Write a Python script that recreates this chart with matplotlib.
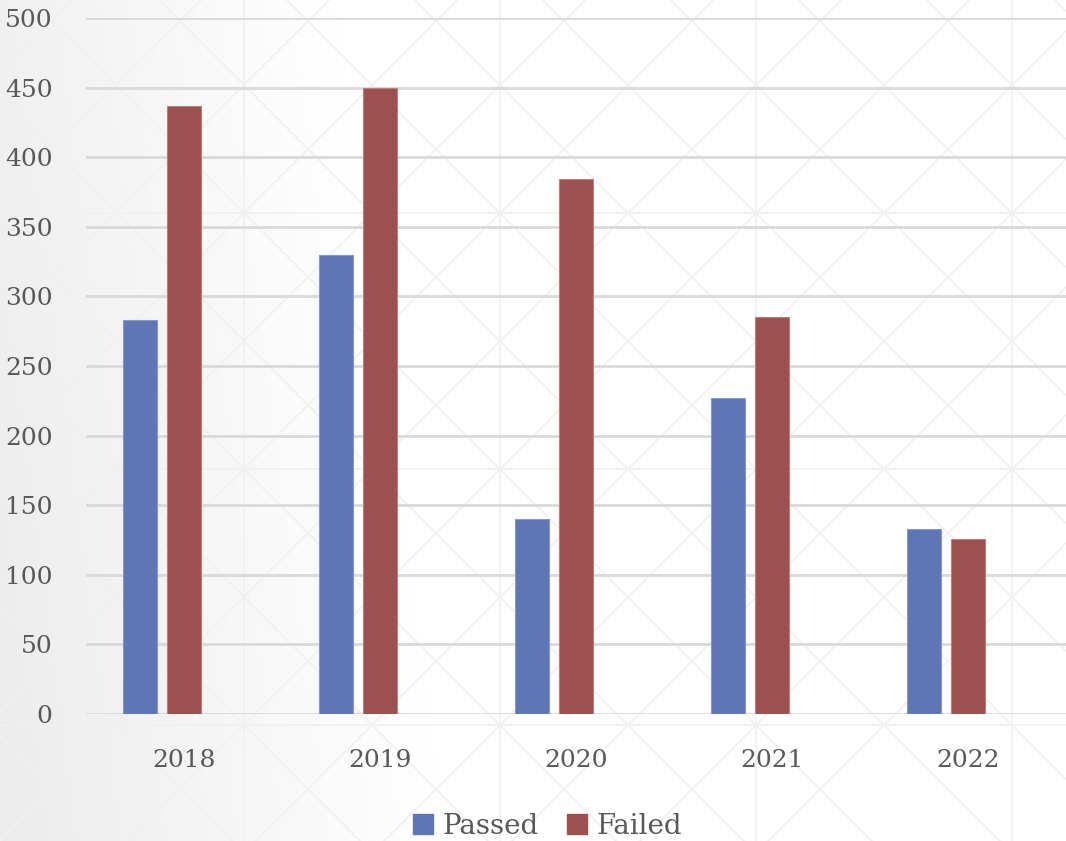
import numpy as np
import matplotlib
matplotlib.use("Agg")
import matplotlib.pyplot as plt
from matplotlib.lines import Line2D

years = ["2018", "2019", "2020", "2021", "2022"]
passed = [283, 330, 140, 227, 133]
failed = [437, 450, 384, 285, 126]
series_names = ["Passed", "Failed"]
yticks = [0, 50, 100, 150, 200, 250, 300, 350, 400, 450, 500]

W, H = 1066, 841
fig = plt.figure(figsize=(W / 100, H / 100), dpi=100)
fig.patch.set_facecolor("white")

# background gradient
bg = fig.add_axes([0, 0, 1, 1], zorder=-10)
gx = np.linspace(0, 1, 400)
gy = np.linspace(0, 1, 300)
X, Y = np.meshgrid(gx, gy)
shade = 0.925 + 0.075 * np.clip(X * 2.4 + (1 - Y) * 0.25, 0, 1)
bg.imshow(np.dstack([shade, shade, shade]), extent=[0, W, 0, H], aspect="auto",
          origin="upper", interpolation="bilinear")
# faint decorative pattern (squares with diagonals)
pc = "#f0f0f0"
step = 256
x0, y0 = 244, 213
for k in range(-3, 6):
    xv = x0 + k * step
    bg.plot([xv, xv], [0, H], color=pc, lw=1.2)
    yv = H - (y0 + k * step)
    bg.plot([0, W], [yv, yv], color=pc, lw=1.2)
for k in range(-8, 10):
    c = x0 + k * step / 2
    bg.plot([c - 1200, c + 1200], [H - (y0 - 1200), H - (y0 + 1200)], color=pc, lw=1.2)
    bg.plot([c - 1200, c + 1200], [H - (y0 + 1200), H - (y0 - 1200)], color=pc, lw=1.2)
bg.set_xlim(0, W)
bg.set_ylim(0, H)
bg.axis("off")

ax = fig.add_axes([86 / W, 1 - 714 / H, 1 - 86 / W, (714 - 18) / H])
ax.patch.set_alpha(0)

x = np.arange(len(years))
bw = 34 / 196
stepb = 44 / 196
c_pass = "#6075b4"
c_fail = "#9c5151"
ax.bar(x - stepb, passed, width=bw, color=c_pass, edgecolor="#8798cc", linewidth=0.8, zorder=3)
ax.bar(x, failed, width=bw, color=c_fail, edgecolor="#b98080", linewidth=0.8, zorder=3)

ax.set_xlim(-0.5, len(years) - 0.5)
ax.set_ylim(0, 500)
ax.set_yticks(yticks)
ax.set_xticks(x)
ax.set_xticklabels(years)
for s in ax.spines.values():
    s.set_visible(False)
ax.grid(axis="y", color="#d9d9d9", linewidth=2, zorder=1)
ax.set_axisbelow(True)
ax.tick_params(length=0, colors="#595959")
for lab in ax.get_yticklabels():
    lab.set_fontfamily("DejaVu Serif")
    lab.set_fontsize(18)
for lab in ax.get_xticklabels():
    lab.set_fontfamily("DejaVu Serif")
    lab.set_fontsize(18)
ax.tick_params(axis="y", pad=24)
ax.tick_params(axis="x", pad=25)

handles = [Line2D([], [], marker="s", linestyle="none", markersize=15, color=c_pass),
           Line2D([], [], marker="s", linestyle="none", markersize=15, color=c_fail)]
fig.legend(handles, series_names, loc="center", bbox_to_anchor=(0.513, 1 - 826 / H),
           ncol=2, frameon=False, handlelength=0.8, handletextpad=0.3, columnspacing=1.0,
           prop={"family": "DejaVu Serif", "size": 20}, labelcolor="#595959")

fig.savefig("out.png", dpi=100)
